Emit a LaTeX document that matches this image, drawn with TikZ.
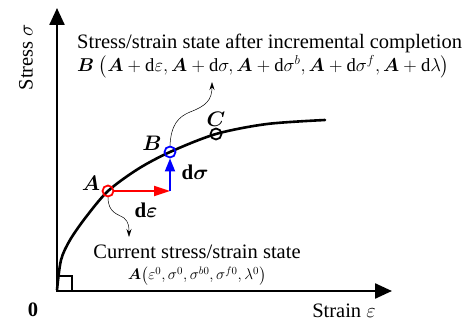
\documentclass[tikz,border=0pt]{standalone}
\usepackage{fix-cm}
\usepackage{amsmath, amssymb}
\usepackage{fontspec}
\setmainfont{Liberation Serif}
\usepackage{tikz}
\usetikzlibrary{calc, arrows.meta, positioning}

\tikzset{
    axis/.style={line width=2.4pt, -{Triangle[length=17pt,width=15pt]}},
    statept/.style={circle, draw, line width=1.8pt, inner sep=0pt, minimum size=11pt},
    ptlabel/.style={font=\fontsize{21}{24}\selectfont},
    callout/.style={line width=0.5pt, -{Stealth[length=8pt,width=5pt]}},
    txt/.style={font=\fontsize{20.5}{23}\selectfont, inner sep=0pt}
}

\begin{document}
\begin{tikzpicture}[x=1pt, y=-1pt]
    \useasboundingbox (0,0) rectangle (475,321);

    % Hệ trục
    \coordinate (O) at (57,291);
    \coordinate (ytip) at (57,8);
    \coordinate (xtip) at (392,291);
    \draw[axis] (O) -- (ytip);
    \draw[axis] (O) -- (xtip);
    \draw[line width=1.2pt] (57,276) rectangle (72,291);
    \node[txt] (zero) at (33,310) {\textbf{0}};
    \node[txt, rotate=90] (ylab) at (26,57) {Stress $\sigma$};
    \node[txt] (xlab) at (344,311) {Strain $\varepsilon$};

    % Đường cong ứng suất - biến dạng
    \draw[line width=2.6pt, line cap=round] plot[smooth, tension=0.5] coordinates
        {(57,290) (61,260) (70,240) (86,217) (108,191) (138,169) (170,152)
         (216,134) (267,124) (325,120)};

    % Các trạng thái
    \node[statept, draw=red] (A) at (108,191) {};
    \node[statept, draw=blue] (B) at (170,152) {};
    \node[statept, draw=black] (C) at (216,134) {};
    \node[ptlabel] (Alab) at (91,183) {$\boldsymbol{A}$};
    \node[ptlabel] (Blab) at (152,143) {$\boldsymbol{B}$};
    \node[ptlabel] (Clab) at (216,119) {$\boldsymbol{C}$};

    % Gia số
    \coordinate (K) at (170,191);
    \draw[red, line width=1.8pt, -{Triangle[length=16pt,width=10pt]}] (A.east) -- (K);
    \draw[blue, line width=1.8pt, -{Triangle[length=13pt,width=10pt]}] (K) -- (B.south);
    \node[ptlabel] (deps) at (146,210) {$\mathbf{d}\boldsymbol{\varepsilon}$};
    \node[ptlabel] (dsig) at (195,172) {$\mathbf{d}\boldsymbol{\sigma}$};

    % Chú thích
    \node[txt, anchor=west] (after) at (77,43)
        {Stress/strain state after incremental completion};
    \node[txt, anchor=west, font=\fontsize{18.6}{23}\selectfont] (afterB) at (77,67)
        {$\boldsymbol{B}\ \bigl(\boldsymbol{A}+\mathrm{d}\varepsilon, \boldsymbol{A}+\mathrm{d}\sigma, \boldsymbol{A}+\mathrm{d}\sigma^{b}, \boldsymbol{A}+\mathrm{d}\sigma^{f}, \boldsymbol{A}+\mathrm{d}\lambda\bigr)$};
    \node[txt] (current) at (197,252) {Current stress/strain state};
    \node[txt, font=\fontsize{15.4}{23}\selectfont] (currentA) at (197,276)
        {$\boldsymbol{A}\bigl(\varepsilon^{0}, \sigma^{0}, \sigma^{b0}, \sigma^{f0}, \lambda^{0}\bigr)$};

    \coordinate (Atip) at (129,237);
    \coordinate (Btip) at (212,82);
    \draw[callout] (A.south) .. controls (108,213) and (118,214) .. (124,218)
        .. controls (129,222) and (129,228) .. (Atip);
    \draw[callout] (B.north) .. controls (171,125) and (178,117) .. (190,112)
        .. controls (206,106) and (212,100) .. (Btip);
\end{tikzpicture}
\end{document}
